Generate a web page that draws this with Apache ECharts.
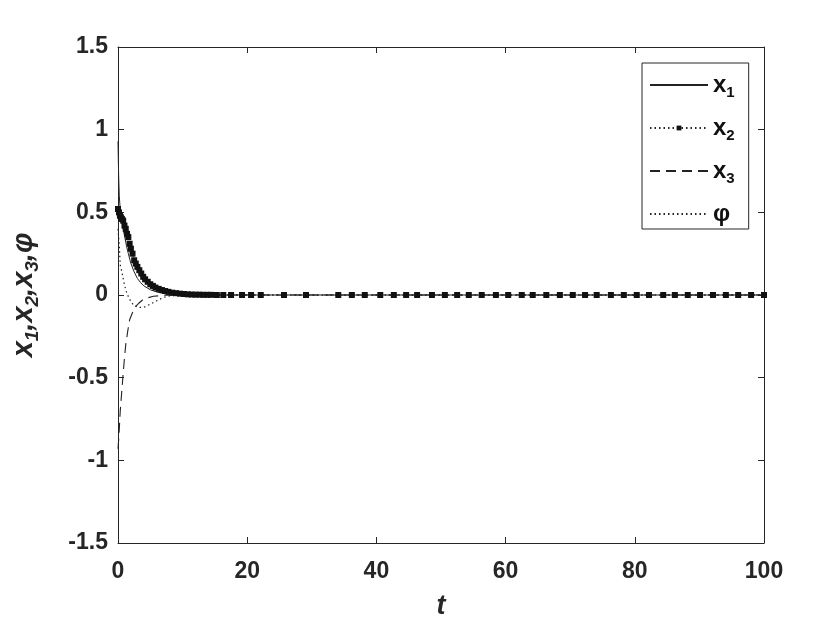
<!DOCTYPE html>
<html><head><meta charset="utf-8">
<script src="https://cdn.jsdelivr.net/npm/echarts@6/dist/echarts.min.js"></script>
<style>html,body{margin:0;padding:0;background:#fff}#c{width:838px;height:631px}</style>
</head><body><div id="c"></div>
<script>
// ---- data ----
const xTicks = [0, 20, 40, 60, 80, 100];
const yTicks = [-1.5, -1, -0.5, 0, 0.5, 1, 1.5];
const seriesNames = ['x1', 'x2', 'x3', 'φ'];

const tX1 = [0, 0.05, 0.1, 0.2, 0.3, 0.5, 0.7, 1.0, 1.3, 1.6, 2.0, 2.5, 3.0, 3.5, 4.0, 5.0, 6.0, 7.0, 8.0, 10, 15, 20, 30, 40, 50, 60, 70, 80, 90, 100];
const vX1 = [0.93, 0.82, 0.72, 0.6, 0.54, 0.47, 0.42, 0.36, 0.3, 0.25, 0.19, 0.14, 0.1, 0.075, 0.055, 0.032, 0.018, 0.01, 0.006, 0.002, 0, 0, 0, 0, 0, 0, 0, 0, 0, 0];

const tX2 = [0, 0.15, 0.3, 0.45, 0.6, 0.8, 1.0, 1.2, 1.4, 1.6, 1.8, 2.0, 2.25, 2.5, 2.75, 3.0, 3.3, 3.6, 3.9, 4.2, 4.6, 5.0, 5.4, 5.8, 6.3, 6.8, 7.3, 7.8, 8.4, 9.0, 9.6, 10.2, 10.8, 11.4, 12.0, 12.6, 13.2, 13.8, 14.4,
  15.3, 16.3, 17.5, 19.2, 20.6, 22.1, 25.7, 29.1, 34.1, 36.2, 38.2, 40.6, 42.7, 44.6, 46.3, 48.6, 50.6, 52.5, 54.3, 56.3, 58.5, 60.4, 62.5, 64.2, 66.3, 68.4, 70.4, 72.3, 74.1, 76.3, 78.3, 80.3, 82.2, 84.4, 86.2, 88.2, 90.1, 92.1, 94.1, 96.0, 98.0, 100];
const vX2 = [0.52, 0.5, 0.48, 0.47, 0.46, 0.45, 0.42, 0.4, 0.37, 0.35, 0.31, 0.28, 0.25, 0.21, 0.19, 0.17, 0.15, 0.13, 0.11, 0.095, 0.08, 0.065, 0.055, 0.045, 0.037, 0.03, 0.024, 0.019, 0.014, 0.011, 0.008, 0.006, 0.004, 0.003, 0.002, 0.002, 0.001, 0.001, 0.001,
  0, 0, 0, 0, 0, 0, 0, 0, 0, 0, 0, 0, 0, 0, 0, 0, 0, 0, 0, 0, 0, 0, 0, 0, 0, 0, 0, 0, 0, 0, 0, 0, 0, 0, 0, 0, 0, 0, 0, 0, 0, 0];

const tX3 = [0, 0.15, 0.35, 0.55, 0.75, 1.0, 1.2, 1.5, 1.8, 2.2, 2.7, 3.2, 3.8, 4.5, 5.5, 7, 10, 20, 40, 60, 80, 100];
const vX3 = [-0.93, -0.85, -0.7, -0.6, -0.5, -0.38, -0.3, -0.22, -0.15, -0.11, -0.07, -0.05, -0.03, -0.018, -0.008, -0.002, 0, 0, 0, 0, 0, 0];

const tPhi = [0, 0.2, 0.35, 0.6, 0.9, 1.2, 1.6, 2.0, 2.5, 3.2, 4.0, 5.0, 6.0, 7.0, 8.0, 10, 20, 40, 60, 80, 100];
const vPhi = [0.4, 0.3, 0.18, 0.14, 0.08, 0.03, -0.01, -0.04, -0.065, -0.075, -0.075, -0.055, -0.035, -0.015, -0.005, 0, 0, 0, 0, 0, 0];

// ---- chart ----
const F = '"Liberation Sans", Arial, Helvetica, sans-serif';
const INK = '#262626';
const pairs = (t, v) => t.map((x, i) => [x, v[i]]);

const legendLabel = n => n === 'φ' ? '{b|φ}{s| }' : '{b|' + n[0] + '}{s|' + n.slice(1) + '}';
const legendData = seriesNames.map(n => n === 'x2' ? {name: n} : {name: n, itemStyle: {opacity: 0}});

const chart = echarts.init(document.getElementById('c'), null, {renderer: 'canvas'});
const axisCommon = {
  min: 0, max: 100, interval: 20,
  axisLine: {show: true, onZero: false, lineStyle: {color: INK, width: 1}},
  axisTick: {show: true, inside: true, length: 6, lineStyle: {color: INK}},
  splitLine: {show: false}
};
chart.setOption({
  animation: false,
  backgroundColor: '#fff',
  grid: {left: 118, right: 74, top: 47, bottom: 88, containLabel: false},
  xAxis: [
    Object.assign({}, axisCommon, {
      type: 'value', position: 'bottom',
      axisLabel: {show: true, margin: 17, fontSize: 23, fontWeight: 'bold', fontFamily: F, color: INK,
        customValues: xTicks},
      name: 't', nameLocation: 'middle', nameGap: 50,
      nameTextStyle: {fontSize: 27, fontWeight: 'bold', fontStyle: 'italic', fontFamily: F, color: INK}
    }),
    Object.assign({}, axisCommon, {type: 'value', position: 'top', axisLabel: {show: false}})
  ],
  yAxis: [
    {
      type: 'value', min: -1.5, max: 1.5, interval: 0.5, position: 'left',
      axisLine: {show: true, onZero: false, lineStyle: {color: INK, width: 1}},
      axisTick: {show: true, inside: true, length: 6, lineStyle: {color: INK}},
      splitLine: {show: false},
      axisLabel: {show: true, margin: 10, fontSize: 23, fontWeight: 'bold', fontFamily: F, color: INK,
        customValues: yTicks},
      name: '{i|x}{si|1}{i|,x}{si|2}{i|,x}{si|3}{i|,φ}',
      nameLocation: 'middle', nameGap: 76, nameRotate: 90,
      nameTextStyle: {
        color: INK,
        rich: {
          i: {fontSize: 29, fontWeight: 'bold', fontStyle: 'italic', fontFamily: F, color: INK, lineHeight: 36},
          si: {fontSize: 19, fontWeight: 'bold', fontStyle: 'italic', fontFamily: F, color: INK, lineHeight: 5, verticalAlign: 'bottom'}
        }
      }
    },
    {
      type: 'value', min: -1.5, max: 1.5, interval: 0.5, position: 'right',
      axisLine: {show: true, onZero: false, lineStyle: {color: INK, width: 1}},
      axisTick: {show: true, inside: true, length: 6, lineStyle: {color: INK}},
      splitLine: {show: false}, axisLabel: {show: false}
    }
  ],
  legend: {
    orient: 'vertical', left: 642, top: 63,
    padding: [10, 14, 0, 7], itemGap: 16, itemWidth: 58, itemHeight: 6,
    borderColor: INK, borderWidth: 1, backgroundColor: '#fff',
    data: legendData,
    formatter: legendLabel,
    textStyle: {
      color: '#111',
      rich: {
        b: {fontSize: 24, fontWeight: 'bold', fontFamily: F, color: '#111', lineHeight: 30},
        s: {fontSize: 15, fontWeight: 'bold', fontFamily: F, color: '#111', lineHeight: 3, verticalAlign: 'bottom'}
      }
    }
  },
  series: [
    {name: 'x1', type: 'line', data: pairs(tX1, vX1), symbol: 'none', smooth: false,
      lineStyle: {color: '#222', width: 1, type: 'solid'}, itemStyle: {color: '#222'}, z: 2},
    {name: 'x2', type: 'line', data: pairs(tX2, vX2), symbol: 'rect', symbolSize: 6, showSymbol: true, showAllSymbol: true,
      lineStyle: {color: '#222', width: 1, type: [1.5, 3]}, itemStyle: {color: '#111'}, z: 3},
    {name: 'x3', type: 'line', data: pairs(tX3, vX3), symbol: 'none',
      lineStyle: {color: '#222', width: 1.1, type: [10, 6]}, itemStyle: {color: '#222'}, z: 2},
    {name: 'φ', type: 'line', data: pairs(tPhi, vPhi), symbol: 'none',
      lineStyle: {color: '#222', width: 1.2, type: [1.5, 3]}, itemStyle: {color: '#222'}, z: 2}
  ]
});
</script></body></html>
